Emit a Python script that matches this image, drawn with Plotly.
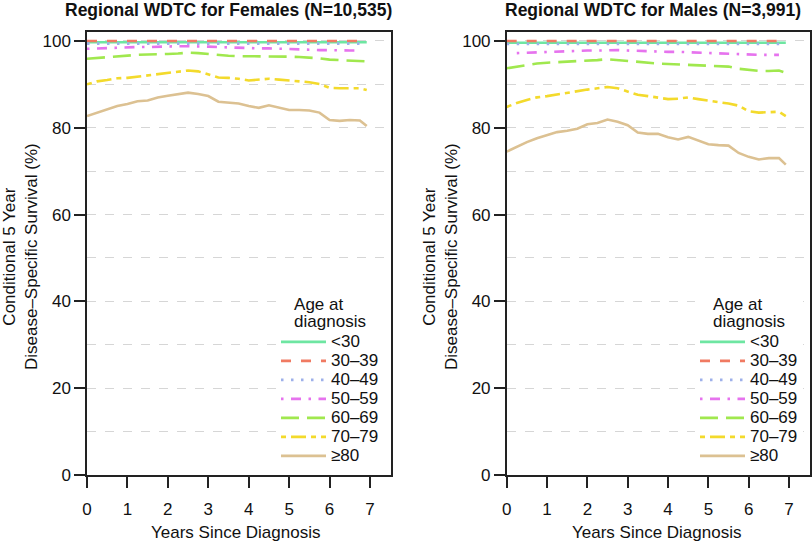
import plotly.graph_objects as go

years = [0, 0.25, 0.5, 0.75, 1.0, 1.25, 1.5, 1.75, 2.0, 2.25, 2.5, 2.75, 3.0, 3.25,
         3.5, 3.75, 4.0, 4.25, 4.5, 4.75, 5.0, 5.25, 5.5, 5.75, 6.0, 6.25, 6.5, 6.75, 6.92]
age_groups = ["<30", "30–39", "40–49", "50–59", "60–69", "70–79", "≥80"]
year_ticks = [0, 1, 2, 3, 4, 5, 6, 7]

# Females (N=10,535)
fem_lt30 = [99.7] * 29
fem_30s = [100.0] * 28 + [None]
fem_40s = [99.4] * 29
fem_50s = [98.2, 98.3, 98.4, 98.4, 98.5, 98.6, 98.6, 98.7, 98.7, 98.8, 98.8, 98.8, 98.7, 98.6,
           98.5, 98.4, 98.4, 98.3, 98.3, 98.2, 98.2, 98.1, 98.0, 97.9, 97.9, 97.8, 97.8, 97.8, None]
fem_60s = [95.9, 96.1, 96.3, 96.5, 96.7, 96.8, 96.9, 96.9, 97.0, 97.1, 97.3, 97.2, 97.0, 96.7,
           96.6, 96.5, 96.5, 96.4, 96.4, 96.4, 96.4, 96.3, 96.2, 96.0, 95.7, 95.6, 95.6, 95.5, 95.3]
fem_70s = [90.0, 90.7, 91.0, 91.4, 91.5, 91.8, 92.1, 92.4, 92.6, 92.9, 93.2, 93.0, 92.3, 91.6,
           91.5, 91.3, 90.9, 91.1, 91.3, 91.1, 90.9, 90.7, 90.5, 90.1, 89.2, 89.1, 89.1, 89.1, 88.7]
fem_80p = [82.7, 83.5, 84.3, 85.0, 85.5, 86.1, 86.3, 87.0, 87.4, 87.7, 88.1, 87.8, 87.3, 86.0,
           85.8, 85.6, 85.0, 84.6, 85.2, 84.7, 84.1, 84.1, 84.0, 83.5, 81.8, 81.6, 81.8, 81.7, 80.4]

# Males (N=3,991)
male_lt30 = [99.6] * 29
male_30s = [100.0] * 28 + [None]
male_40s = [99.3] * 29
male_50s = [None, 97.2, 97.3, 97.4, 97.5, 97.6, 97.7, 97.7, 97.8, 97.8, 97.9, 97.9, 97.8, 97.7,
            97.6, 97.6, 97.5, 97.5, 97.4, 97.3, 97.2, 97.2, 97.1, 97.0, 96.9, 96.8, 96.8, 96.8, None]
male_60s = [93.7, 94.1, 94.5, 94.8, 95.0, 95.1, 95.2, 95.3, 95.4, 95.6, 95.8, 95.6, 95.4, 95.1,
            95.0, 94.8, 94.7, 94.6, 94.5, 94.4, 94.3, 94.2, 94.1, 93.6, 93.3, 93.1, 93.1, 93.2, 92.7]
male_70s = [84.8, 85.7, 86.4, 87.0, 87.3, 87.7, 88.1, 88.4, 88.8, 89.1, 89.4, 89.1, 88.3, 87.6,
            87.3, 86.9, 86.6, 86.7, 87.0, 86.6, 86.2, 85.9, 85.6, 85.1, 83.8, 83.5, 83.6, 83.7, 82.7]
male_80p = [74.5, 75.6, 76.7, 77.6, 78.3, 79.0, 79.3, 79.8, 80.8, 81.1, 81.9, 81.4, 80.6, 78.9,
            78.6, 78.6, 77.8, 77.3, 77.9, 77.0, 76.2, 76.0, 75.9, 74.2, 73.3, 72.7, 73.0, 73.0, 71.5]

female_series = [fem_lt30, fem_30s, fem_40s, fem_50s, fem_60s, fem_70s, fem_80p]
male_series = [male_lt30, male_30s, male_40s, male_50s, male_60s, male_70s, male_80p]

colors = ["#6ee6a2", "#f07a62", "#9db0ea", "#e673ee", "#a0e84e", "#f3da2c", "#dcc192"]
dashes = ["solid", "10px,10px", "2.5px,7.5px", "2.5px,7.5px,10px,7.5px",
          "18px,8px", "5px,5px,15px,5px", "solid"]

FONT = "Liberation Sans, Arial, Helvetica, sans-serif"
W, H = 812, 542
BIG = "<span style='font-size:17px'>{}</span>"

fig = go.Figure()

for panel, series_list in enumerate([female_series, male_series]):
    sfx = "" if panel == 0 else "2"
    for name, vals, color, dash in zip(age_groups, series_list, colors, dashes):
        fig.add_trace(go.Scatter(
            x=years, y=vals, mode="lines", name=BIG.format(name),
            line=dict(color=color, width=2.6, dash=dash),
            xaxis="x" + sfx, yaxis="y" + sfx,
            legend="legend" + sfx, hoverinfo="skip",
        ))

x_common = dict(
    range=[0, 7.52], tickvals=year_ticks, showgrid=False, zeroline=False,
    showline=True, linecolor="#222", linewidth=1.5, mirror=True,
    ticks="outside", ticklen=11, tickwidth=1.5, tickcolor="#222",
    ticklabelstandoff=7,
    tickfont=dict(size=17, color="#111", family=FONT),
    automargin=False,
)
y_common = dict(
    range=[0, 102], tick0=0, dtick=20, zeroline=False,
    showline=True, linecolor="#222", linewidth=1.5, mirror=True,
    ticks="outside", ticklen=11, tickwidth=1.5, tickcolor="#222",
    tickfont=dict(size=17, color="#111", family=FONT),
    showgrid=True, gridcolor="#d6d6d6", griddash="dash", gridwidth=1,
    minor=dict(dtick=10, tick0=0, showgrid=True, gridcolor="#d6d6d6",
               griddash="dash", gridwidth=1, ticks=""),
    automargin=False,
)

left_dom = [87 / W, 391 / W]
right_dom = [506.7 / W, 810 / W]
y_dom = [(H - 475) / H, (H - 32.3) / H]

legend_common = dict(
    yanchor="top", xanchor="left", bgcolor="white", borderwidth=0,
    font=dict(size=12.2, color="#111", family=FONT), tracegroupgap=0,
    title=dict(text=BIG.format("Age at") + "<br>" + BIG.format("diagnosis"),
               side="top center", font=dict(size=13.6, color="#111", family=FONT)),
    itemwidth=45,
)

fig.update_layout(
    width=W, height=H,
    margin=dict(l=0, r=0, t=0, b=0),
    paper_bgcolor="white", plot_bgcolor="white",
    font=dict(family=FONT, color="#111"),
    xaxis=dict(domain=left_dom, anchor="y", **x_common),
    yaxis=dict(domain=y_dom, anchor="x", **y_common),
    xaxis2=dict(domain=right_dom, anchor="y2", **x_common),
    yaxis2=dict(domain=y_dom, anchor="x2", **y_common),
    legend=dict(x=276 / W, y=1 - 292 / H, **legend_common),
    legend2=dict(x=695 / W, y=1 - 292 / H, **legend_common),
    showlegend=True,
)

titles = ["<b>Regional WDTC for Females (N=10,535)</b>", "<b>Regional WDTC for Males (N=3,991)</b>"]
title_x = [228.5, 653]
ytitle_x = [20, 440]
xtitle_x = [236, 656]
for tt, tx, yx, xx in zip(titles, title_x, ytitle_x, xtitle_x):
    fig.add_annotation(text=tt, x=tx / W, y=1 - 10 / H, xref="paper", yref="paper",
                       showarrow=False, xanchor="center", yanchor="middle",
                       font=dict(size=17.5, color="#111", family=FONT))
    fig.add_annotation(text="Conditional 5 Year<br>Disease–Specific Survival (%)",
                       x=yx / W, y=1 - 257 / H, xref="paper", yref="paper",
                       showarrow=False, textangle=-90, xanchor="center", yanchor="middle",
                       font=dict(size=17, color="#111", family=FONT))
    fig.add_annotation(text="Years Since Diagnosis",
                       x=xx / W, y=1 - 532 / H, xref="paper", yref="paper",
                       showarrow=False, xanchor="center", yanchor="middle",
                       font=dict(size=17, color="#111", family=FONT))

# drop the page's default body margin so the figure sits at the top-left corner
fig.write_html("out.html", config={"displayModeBar": False},
               post_script="document.body.style.margin='0';")
